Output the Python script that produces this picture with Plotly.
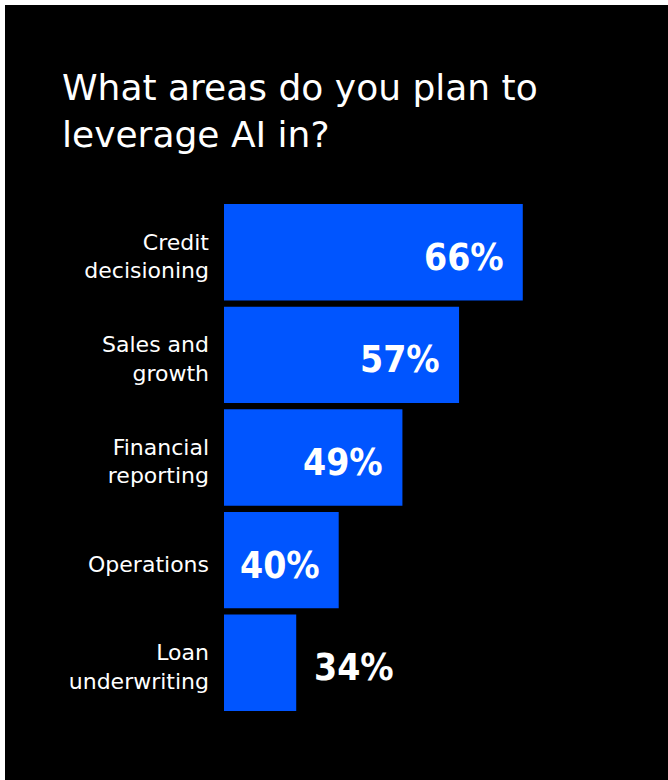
import plotly.graph_objects as go

# Survey data
categories = ["Credit<br>decisioning", "Sales and<br>growth", "Financial<br>reporting",
              "Operations", "Loan<br>underwriting"]
values = [66, 57, 49, 40, 34]
value_labels = [f"{v}%" for v in values]
inside = [True, True, True, True, False]

TITLE = "What areas do you plan to<br>leverage AI in?"
BAR_COLOR = "#0055FF"
BG = "#000000"

W, H = 668, 780
ML, MR, MT, MB = 224, 28, 201, 66
PW, PH = W - ML - MR, H - MT - MB


def px_x(p):
    return (p - ML) / PW


def px_y(p):
    return (H - MB - p) / PH


fig = go.Figure()
fig.add_trace(go.Bar(
    y=categories, x=values, orientation="h",
    marker=dict(color=BAR_COLOR, line=dict(width=0)),
    hoverinfo="skip",
))

value_font = dict(family="DejaVu Sans Condensed, sans-serif",
                  size=37, color="white", weight="bold")
for cat, v, lab, ins in zip(categories, values, value_labels, inside):
    fig.add_annotation(
        x=v, y=cat, xref="x", yref="y", text=lab, showarrow=False,
        xanchor="right" if ins else "left", xshift=-17 if ins else 16,
        yshift=-5, font=value_font,
    )

# white frame strips along the top and left edges
fig.add_shape(type="rect", xref="paper", yref="paper", layer="above",
              x0=px_x(0), x1=px_x(W), y0=px_y(5), y1=px_y(0),
              fillcolor="white", line=dict(width=0))
fig.add_shape(type="rect", xref="paper", yref="paper", layer="above",
              x0=px_x(0), x1=px_x(5), y0=px_y(H), y1=px_y(0),
              fillcolor="white", line=dict(width=0))

fig.update_layout(
    width=W, height=H,
    margin=dict(l=ML, r=MR, t=MT, b=MB, pad=0),
    paper_bgcolor=BG, plot_bgcolor=BG,
    showlegend=False,
    bargap=0.06,
    title=dict(text=TITLE, x=62 / W, xanchor="left", xref="container",
               y=1 - 100 / H, yanchor="top", yref="container",
               font=dict(family="DejaVu Sans, sans-serif", size=36, color="white")),
    xaxis=dict(range=[23.8, 23.8 + PW / 7.08], visible=False, fixedrange=True),
    yaxis=dict(autorange="reversed", showgrid=False, zeroline=False, showline=False,
               ticks="", ticklabelstandoff=14, ticklabelshift=-4,
               tickfont=dict(family="DejaVu Sans, sans-serif", size=22, color="white"),
               fixedrange=True),
)

fig.write_html("out.html", config={"displayModeBar": False})
